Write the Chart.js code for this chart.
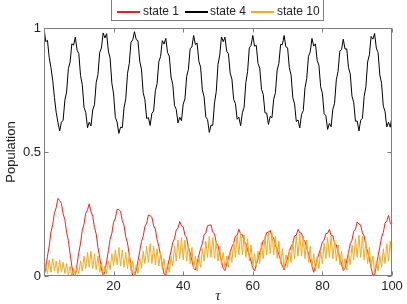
<!DOCTYPE html>
<html>
<head>
<meta charset="utf-8">
<script src="https://cdn.jsdelivr.net/npm/chart.js@4"></script>
<style>
  html, body { margin: 0; padding: 0; background: #fff; }
  #wrap { width: 407px; height: 304px; }
</style>
</head>
<body>
<div id="wrap"><canvas id="myChart" width="407" height="304"></canvas></div>
<script>
// time grid (tau), one sample every 0.5
const tau = [
  0,0.5,1,1.5,2,2.5,3,3.5,4,4.5, 5,5.5,6,6.5,7,7.5,8,8.5,9,9.5,
  10,10.5,11,11.5,12,12.5,13,13.5,14,14.5, 15,15.5,16,16.5,17,17.5,18,18.5,19,19.5,
  20,20.5,21,21.5,22,22.5,23,23.5,24,24.5, 25,25.5,26,26.5,27,27.5,28,28.5,29,29.5,
  30,30.5,31,31.5,32,32.5,33,33.5,34,34.5, 35,35.5,36,36.5,37,37.5,38,38.5,39,39.5,
  40,40.5,41,41.5,42,42.5,43,43.5,44,44.5, 45,45.5,46,46.5,47,47.5,48,48.5,49,49.5,
  50,50.5,51,51.5,52,52.5,53,53.5,54,54.5, 55,55.5,56,56.5,57,57.5,58,58.5,59,59.5,
  60,60.5,61,61.5,62,62.5,63,63.5,64,64.5, 65,65.5,66,66.5,67,67.5,68,68.5,69,69.5,
  70,70.5,71,71.5,72,72.5,73,73.5,74,74.5, 75,75.5,76,76.5,77,77.5,78,78.5,79,79.5,
  80,80.5,81,81.5,82,82.5,83,83.5,84,84.5, 85,85.5,86,86.5,87,87.5,88,88.5,89,89.5,
  90,90.5,91,91.5,92,92.5,93,93.5,94,94.5, 95,95.5,96,96.5,97,97.5,98,98.5,99,99.5,
  100
];

// state 1 (red)
const state1 = [
  0,0.03,0.08,0.121,0.178,0.207,0.256,0.275,0.313,0.304,
  0.293,0.251,0.227,0.175,0.143,0.089,0.04,0,0,0.047,
  0.094,0.132,0.185,0.209,0.253,0.267,0.291,0.259,0.241,0.196,
  0.169,0.115,0.076,0.028,0,0.017,0.06,0.102,0.148,0.172,
  0.217,0.233,0.269,0.268,0.261,0.223,0.204,0.158,0.133,0.086,
  0.043,0,0,0.023,0.061,0.098,0.139,0.159,0.2,0.213,
  0.246,0.243,0.237,0.203,0.189,0.147,0.119,0.084,0.046,0.008,
  0.004,0.036,0.069,0.1,0.135,0.15,0.185,0.193,0.22,0.203,
  0.198,0.165,0.154,0.115,0.093,0.063,0.031,0.024,0.054,0.083,
  0.111,0.13,0.166,0.174,0.203,0.205,0.206,0.177,0.169,0.135,
  0.122,0.089,0.06,0.03,0.022,0.048,0.073,0.096,0.118,0.131,
  0.161,0.164,0.188,0.169,0.167,0.139,0.132,0.106,0.083,0.059,
  0.033,0.02,0.046,0.07,0.095,0.116,0.143,0.148,0.176,0.175,
  0.184,0.158,0.154,0.123,0.108,0.086,0.064,0.039,0.025,0.05,
  0.074,0.098,0.119,0.132,0.162,0.164,0.188,0.174,0.173,0.146,
  0.14,0.113,0.09,0.065,0.04,0.015,0.04,0.065,0.089,0.111,
  0.138,0.144,0.171,0.172,0.188,0.164,0.162,0.132,0.125,0.096,
  0.072,0.047,0.022,0.031,0.063,0.095,0.13,0.144,0.18,0.189,
  0.218,0.209,0.206,0.174,0.161,0.122,0.098,0.067,0.035,0.003,
  0.003,0.042,0.08,0.117,0.157,0.175,0.213,0.223,0.244,0.215,
  0.203
];

// state 4 (black)
const state4 = [
  1.0,0.945,0.95,0.88,0.84,0.79,0.72,0.66,0.62,0.585,
  0.62,0.628,0.709,0.742,0.836,0.863,0.936,0.931,0.963,0.911,
  0.897,0.808,0.772,0.68,0.659,0.598,0.62,0.605,0.67,0.69,
  0.78,0.812,0.901,0.919,0.98,0.96,0.977,0.907,0.878,0.777,
  0.734,0.64,0.621,0.575,0.60,0.598,0.678,0.715,0.817,0.856,
  0.943,0.952,0.985,0.953,0.949,0.867,0.835,0.739,0.711,0.635,
  0.639,0.607,0.656,0.665,0.747,0.776,0.864,0.885,0.949,0.935,
  0.958,0.901,0.887,0.802,0.773,0.688,0.672,0.617,0.64,0.626,
  0.693,0.714,0.805,0.834,0.917,0.923,0.97,0.933,0.939,0.866,
  0.842,0.751,0.722,0.641,0.631,0.579,0.608,0.608,0.698,0.744,
  0.853,0.891,0.964,0.945,0.963,0.906,0.896,0.818,0.794,0.712,
  0.696,0.632,0.64,0.606,0.658,0.68,0.78,0.824,0.92,0.93,
  0.97,0.927,0.93,0.857,0.837,0.753,0.732,0.658,0.657,0.611,
  0.644,0.638,0.712,0.739,0.83,0.858,0.934,0.933,0.97,0.924,
  0.92,0.84,0.81,0.719,0.694,0.623,0.629,0.597,0.651,0.667,
  0.759,0.796,0.886,0.903,0.958,0.927,0.936,0.869,0.85,0.763,
  0.736,0.655,0.646,0.591,0.615,0.602,0.672,0.697,0.791,0.825,
  0.907,0.913,0.955,0.915,0.916,0.84,0.815,0.725,0.70,0.624,
  0.625,0.585,0.628,0.636,0.724,0.763,0.863,0.892,0.966,0.955,
  0.978,0.919,0.901,0.811,0.777,0.685,0.664,0.601,0.62,0.60,
  0.645
];

// state 10 (orange)
const state10 = [
  0,0.05,0.01,0.065,0.015,0.07,0.02,0.06,0.01,0.065,
  0.015,0.055,0.01,0.05,0.005,0.04,0,0.03,0.005,0.035,
  0.01,0.06,0.02,0.08,0.03,0.095,0.035,0.1,0.03,0.09,
  0.025,0.08,0.015,0.055,0.005,0.04,0.01,0.06,0.025,0.09,
  0.04,0.105,0.045,0.115,0.04,0.105,0.035,0.095,0.03,0.085,
  0.02,0.06,0.005,0.045,0.01,0.07,0.03,0.1,0.05,0.12,
  0.055,0.13,0.05,0.12,0.045,0.11,0.04,0.095,0.025,0.07,
  0.01,0.05,0.015,0.08,0.04,0.12,0.06,0.145,0.07,0.155,
  0.065,0.145,0.06,0.13,0.05,0.115,0.03,0.08,0.02,0.075,
  0.035,0.11,0.06,0.14,0.075,0.16,0.075,0.155,0.07,0.14,
  0.06,0.12,0.045,0.095,0.03,0.08,0.035,0.1,0.055,0.14,
  0.075,0.165,0.085,0.175,0.085,0.165,0.075,0.15,0.06,0.125,
  0.04,0.09,0.035,0.1,0.05,0.135,0.07,0.16,0.085,0.18,
  0.09,0.175,0.085,0.16,0.07,0.14,0.05,0.11,0.03,0.085,
  0.035,0.11,0.055,0.14,0.07,0.16,0.08,0.17,0.08,0.16,
  0.07,0.145,0.055,0.12,0.035,0.09,0.02,0.075,0.03,0.1,
  0.05,0.13,0.07,0.155,0.075,0.16,0.07,0.145,0.06,0.125,
  0.045,0.1,0.025,0.07,0.025,0.09,0.045,0.125,0.065,0.15,
  0.075,0.165,0.075,0.16,0.065,0.14,0.05,0.115,0.03,0.08,
  0.015,0.06,0.02,0.08,0.035,0.11,0.05,0.13,0.06,0.14,
  0.065
];

const seriesNames = ['state 1', 'state 4', 'state 10'];
const seriesColors = ['#ff1a1a', '#000000', '#ffa61a'];
const xTicks = [20, 40, 60, 80, 100];
const yTicks = [0, 0.5, 1];

const fontFamily = "'Liberation Sans', Arial, Helvetica, sans-serif";
const textColor = '#222';
const frameColor = '#808080';

function points(values) {
  return tau.map((t, i) => ({ x: t, y: values[i] }));
}

// matlab style box with inward ticks
const boxPlugin = {
  id: 'box',
  afterDatasetsDraw(chart) {
    const { ctx, chartArea: a, scales } = chart;
    const l = Math.round(a.left) + 0.5, r = Math.round(a.right) - 0.5;
    const t = Math.round(a.top) + 0.5, b = Math.round(a.bottom) - 0.5;
    ctx.save();
    ctx.strokeStyle = frameColor;
    ctx.lineWidth = 1;
    ctx.strokeRect(l, t, r - l, b - t);
    ctx.beginPath();
    xTicks.forEach(v => {
      const px = Math.round(scales.x.getPixelForValue(v)) + 0.5;
      ctx.moveTo(px, b); ctx.lineTo(px, b - 4);
      ctx.moveTo(px, t); ctx.lineTo(px, t + 4);
    });
    yTicks.forEach(v => {
      const py = Math.round(scales.y.getPixelForValue(v)) + 0.5;
      ctx.moveTo(l, py); ctx.lineTo(l + 4, py);
      ctx.moveTo(r, py); ctx.lineTo(r - 4, py);
    });
    ctx.stroke();
    ctx.restore();
  }
};

// legend box at the top, cut off by the page edge like the original
const legendPlugin = {
  id: 'legendBox',
  afterDraw(chart) {
    const ctx = chart.ctx;
    const cy = 11;
    const lineX = [117, 185, 251];
    const textX = [143, 210, 277];
    ctx.save();
    ctx.font = '12px ' + fontFamily;
    ctx.textBaseline = 'middle';
    ctx.textAlign = 'left';
    seriesNames.forEach((name, i) => {
      ctx.fillStyle = seriesColors[i];
      ctx.fillRect(lineX[i], cy, 23, 2);
      ctx.fillStyle = textColor;
      ctx.fillText(name, textX[i], cy + 1);
    });
    ctx.strokeStyle = frameColor;
    ctx.lineWidth = 1;
    ctx.strokeRect(111.5, -5, 212, 25.5);
    ctx.restore();
  }
};

Chart.defaults.font.family = fontFamily;
Chart.defaults.color = textColor;

const config = {
  type: 'line',
  data: {
    datasets: [
      { label: seriesNames[0], data: points(state1), borderColor: seriesColors[0], order: 2 },
      { label: seriesNames[1], data: points(state4), borderColor: seriesColors[1], order: 3 },
      { label: seriesNames[2], data: points(state10), borderColor: seriesColors[2], order: 1 },
    ]
  },
  options: {
    responsive: false,
    animation: false,
    devicePixelRatio: 1,
    layout: { padding: { top: 28, right: 15, left: 0, bottom: 0 } },
    elements: {
      point: { radius: 0 },
      line: { borderWidth: 1, tension: 0, fill: false }
    },
    plugins: {
      legend: { display: false },
      tooltip: { enabled: false },
    },
    scales: {
      x: {
        type: 'linear',
        min: 0,
        max: 100,
        grid: { display: false, drawTicks: false },
        border: { display: false },
        ticks: {
          stepSize: 20,
          padding: 3,
          maxRotation: 0,
          font: { size: 13 },
          callback: v => (xTicks.includes(v) ? String(v) : ''),
        },
        title: {
          display: true,
          text: 'τ',
          font: { family: "'Liberation Serif', 'DejaVu Serif', serif", size: 15, style: 'italic', lineHeight: 1 },
          padding: { top: 0, bottom: 0 },
        },
        afterFit(scale) { scale.height = 28; },
      },
      y: {
        min: 0,
        max: 1,
        grid: { display: false, drawTicks: false },
        border: { display: false },
        ticks: {
          stepSize: 0.5,
          padding: 3,
          font: { size: 13 },
          callback: v => (yTicks.includes(v) ? String(v) : ''),
        },
        title: {
          display: true,
          text: 'Population',
          font: { size: 13 },
          padding: { top: 4, bottom: 0 },
        },
        afterFit(scale) { scale.width = 44; },
      },
    },
  },
  plugins: [boxPlugin, legendPlugin],
};

var myChart = new Chart(document.getElementById('myChart'), config);
</script>
</body>
</html>
